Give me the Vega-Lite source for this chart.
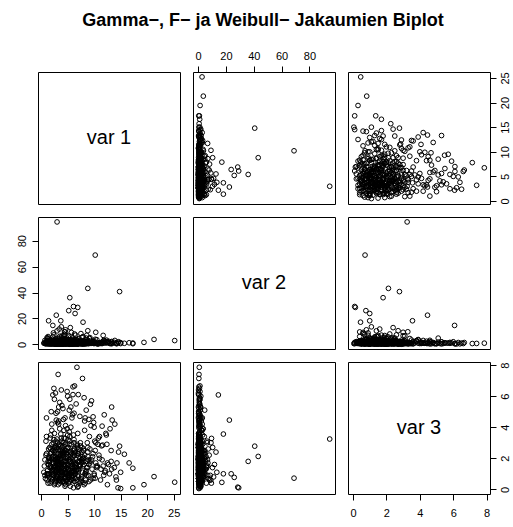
{
"$schema":"https://vega.github.io/schema/vega-lite/v6.json",
"padding":{"left":15,"top":11,"right":0,"bottom":0},
"background":"white",
"title":{"text":"Gamma−, F− ja Weibull− Jakaumien Biplot","fontSize":18,"fontWeight":"bold","font":"Liberation Sans","anchor":"middle","offset":20,"color":"black"},
"config":{
 "view":{"stroke":"black","strokeWidth":1},
 "axis":{"title":null,"grid":false,"domain":false,"tickSize":6,"tickColor":"black","labelPadding":5,"labelFontSize":11,"labelFont":"Liberation Sans","labelColor":"black","labelFlush":false,"labelOverlap":false},
 "text":{"font":"Liberation Sans","fontSize":20,"color":"black"}
},
"datasets":{"d":[
{"a":25.2,"b":2.9,"c":0.46},{"a":21.3,"b":3.8,"c":0.82},{"a":19.4,"b":1.5,"c":0.3},{"a":3.0,"b":94.5,"c":3.24},{"a":10.2,"b":68.9,"c":0.72},{"a":8.8,"b":43.2,"c":2.12},{"a":14.8,"b":40.7,"c":2.78},{"a":5.4,"b":36.0,"c":1.8},{"a":6.1,"b":29.2,"c":0.1},{"a":6.9,"b":28.5,"c":0.14},
{"a":5.2,"b":26.0,"c":0.77},{"a":6.4,"b":23.8,"c":1.0},{"a":2.85,"b":22.5,"c":4.46},{"a":1.4,"b":18.2,"c":1.0},{"a":3.7,"b":18.2,"c":3.56},{"a":7.9,"b":17.1,"c":0.45},{"a":2.2,"b":14.6,"c":6.08},{"a":10.3,"b":9.3,"c":3.0},{"a":8.8,"b":10.5,"c":2.7},{"a":11.7,"b":6.9,"c":1.5},
{"a":4.5,"b":9.7,"c":3.28},{"a":17.3,"b":1.0,"c":1.36},{"a":17.3,"b":0.5,"c":0.1},{"a":16.6,"b":1.2,"c":1.7},{"a":15.7,"b":0.8,"c":2.26},{"a":14.6,"b":2.0,"c":2.4},{"a":15.0,"b":0.6,"c":0.05},{"a":14.5,"b":1.5,"c":0.1},{"a":13.9,"b":3.0,"c":4.2},{"a":13.4,"b":0.7,"c":4.46},
{"a":13.3,"b":1.8,"c":5.3},{"a":9.3,"b":1.1,"c":5.48},{"a":6.75,"b":0.9,"c":7.86},{"a":7.8,"b":0.6,"c":7.14},{"a":3.2,"b":0.7,"c":7.4},{"a":6.3,"b":1.4,"c":6.66},{"a":3.8,"b":0.4,"c":6.4},{"a":2.4,"b":1.0,"c":6.5},{"a":2.7,"b":0.3,"c":6.2},{"a":1.0,"b":2.2,"c":4.6},
{"a":4.6,"b":1.6,"c":4.1},{"a":15.0,"b":1.3,"c":1.1},{"a":14.2,"b":0.5,"c":0.6},{"a":13.3,"b":2.2,"c":1.3},{"a":13.2,"b":0.8,"c":1.8},{"a":12.5,"b":1.5,"c":1.7},{"a":12.3,"b":3.3,"c":3.5},{"a":11.5,"b":0.9,"c":4.07},{"a":11.6,"b":2.0,"c":2.85},{"a":11.0,"b":1.2,"c":3.4},
{"a":10.0,"b":0.6,"c":4.0},{"a":9.8,"b":1.8,"c":4.67},{"a":8.3,"b":1.0,"c":4.6},{"a":8.2,"b":2.7,"c":3.8},{"a":5.4,"b":0.8,"c":5.8},{"a":3.3,"b":1.9,"c":5.3},{"a":3.1,"b":0.5,"c":5.0},{"a":6.0,"b":0.6,"c":6.1},
{"a":4.2,"b":0.8,"c":1.3},{"a":2.1,"b":1.9,"c":0.6},{"a":6.5,"b":0.3,"c":2.4},{"a":3.3,"b":4.1,"c":1.1},{"a":8.9,"b":1.2,"c":0.9},{"a":5.1,"b":0.5,"c":3.2},{"a":1.6,"b":2.7,"c":1.8},{"a":7.2,"b":0.9,"c":0.4},{"a":3.9,"b":1.4,"c":2.0},{"a":10.6,"b":0.6,"c":1.5},
{"a":2.8,"b":0.2,"c":2.7},{"a":5.8,"b":3.3,"c":0.8},{"a":4.6,"b":1.1,"c":1.6},{"a":1.2,"b":0.7,"c":0.9},{"a":9.7,"b":2.2,"c":2.1},{"a":3.5,"b":6.2,"c":1.4},{"a":6.9,"b":0.4,"c":3.6},{"a":2.5,"b":1.6,"c":0.3},{"a":12.1,"b":1.0,"c":1.2},{"a":4.9,"b":2.5,"c":2.6},
{"a":7.7,"b":5.4,"c":1.9},{"a":3.1,"b":0.9,"c":4.3},{"a":5.5,"b":1.7,"c":0.2},{"a":0.9,"b":1.3,"c":2.2},{"a":8.3,"b":0.3,"c":1.0},{"a":4.4,"b":7.6,"c":0.7},{"a":2.3,"b":0.6,"c":3.0},{"a":6.2,"b":2.9,"c":1.7},{"a":11.2,"b":0.8,"c":0.6},{"a":3.7,"b":1.2,"c":1.2},
{"a":5.3,"b":0.1,"c":2.9},{"a":1.8,"b":3.6,"c":1.5},{"a":7.0,"b":1.5,"c":2.3},{"a":4.0,"b":0.5,"c":0.5},{"a":9.1,"b":4.5,"c":3.4},{"a":2.6,"b":1.0,"c":1.9},{"a":6.0,"b":2.0,"c":0.9},{"a":13.2,"b":0.4,"c":2.5},{"a":3.4,"b":11.8,"c":1.6},{"a":5.7,"b":0.7,"c":1.1},
{"a":2.0,"b":2.3,"c":3.8},{"a":4.8,"b":1.8,"c":1.4},{"a":8.1,"b":0.6,"c":0.3},{"a":1.4,"b":0.4,"c":2.6},{"a":6.6,"b":3.9,"c":1.2},{"a":3.0,"b":1.1,"c":0.8},{"a":10.1,"b":1.7,"c":3.1},{"a":4.3,"b":0.2,"c":2.1},{"a":7.5,"b":8.3,"c":0.6},{"a":2.9,"b":2.6,"c":1.7},
{"a":5.9,"b":1.3,"c":4.8},{"a":3.6,"b":0.8,"c":2.3},{"a":1.1,"b":5.1,"c":1.0},{"a":8.6,"b":1.0,"c":1.8},{"a":4.5,"b":2.1,"c":0.2},{"a":6.8,"b":0.5,"c":2.8},{"a":2.2,"b":1.5,"c":1.3},{"a":11.8,"b":3.0,"c":0.9},{"a":5.0,"b":0.9,"c":3.5},{"a":3.2,"b":4.7,"c":2.0},
{"a":7.4,"b":1.2,"c":1.5},{"a":1.9,"b":0.3,"c":0.7},{"a":4.1,"b":3.1,"c":2.4},{"a":9.4,"b":0.7,"c":4.1},{"a":2.7,"b":1.9,"c":1.1},{"a":6.3,"b":0.4,"c":0.5},{"a":5.2,"b":6.8,"c":1.9},{"a":3.8,"b":1.4,"c":3.3},{"a":12.7,"b":2.4,"c":1.6},{"a":1.5,"b":0.6,"c":2.0},
{"a":4.7,"b":1.0,"c":0.6},{"a":8.0,"b":2.8,"c":2.6},{"a":2.4,"b":0.9,"c":1.4},{"a":5.6,"b":1.6,"c":4.0},{"a":3.3,"b":0.2,"c":0.9},{"a":7.1,"b":4.3,"c":1.3},{"a":10.9,"b":1.3,"c":2.2},{"a":2.0,"b":2.0,"c":2.9},{"a":6.1,"b":0.6,"c":1.8},{"a":4.4,"b":9.6,"c":0.4},
{"a":1.3,"b":1.1,"c":1.6},{"a":5.4,"b":0.3,"c":1.0},{"a":3.6,"b":2.4,"c":0.5},{"a":8.7,"b":1.8,"c":3.0},{"a":2.6,"b":0.5,"c":2.4},{"a":6.4,"b":1.1,"c":1.4},{"a":4.9,"b":3.7,"c":3.9},{"a":14.1,"b":0.9,"c":0.8},{"a":3.0,"b":1.7,"c":1.2},{"a":7.9,"b":0.2,"c":2.0},
{"a":0.7,"b":0.8,"c":0.9},{"a":5.0,"b":2.2,"c":2.7},{"a":3.9,"b":0.4,"c":1.7},{"a":9.8,"b":1.4,"c":0.7},{"a":2.2,"b":5.8,"c":2.1},{"a":6.7,"b":1.0,"c":0.3},{"a":4.2,"b":1.3,"c":4.5},{"a":1.7,"b":0.7,"c":1.5},{"a":8.4,"b":3.4,"c":1.1},{"a":5.8,"b":0.5,"c":2.3},
{"a":3.4,"b":1.5,"c":0.6},{"a":11.5,"b":0.6,"c":1.9},{"a":2.8,"b":2.9,"c":3.1},{"a":7.3,"b":0.9,"c":1.6},{"a":4.6,"b":0.3,"c":1.0},{"a":1.0,"b":1.2,"c":3.4},{"a":6.0,"b":4.9,"c":2.5},{"a":3.1,"b":0.7,"c":1.8},{"a":9.0,"b":1.9,"c":0.5},{"a":5.3,"b":1.1,"c":3.7},
{"a":2.4,"b":3.2,"c":1.2},{"a":4.0,"b":0.8,"c":2.2},{"a":7.6,"b":1.6,"c":0.8},{"a":1.6,"b":0.4,"c":1.9},{"a":5.7,"b":2.6,"c":1.4},{"a":12.4,"b":1.2,"c":2.9},{"a":3.5,"b":0.5,"c":0.4},{"a":6.5,"b":7.1,"c":1.7},{"a":2.9,"b":1.0,"c":2.6},{"a":8.2,"b":0.7,"c":4.4},
{"a":4.8,"b":1.4,"c":1.1},{"a":1.9,"b":2.1,"c":0.5},{"a":6.9,"b":0.2,"c":1.3},{"a":3.2,"b":1.8,"c":2.8},{"a":10.3,"b":0.9,"c":1.7},{"a":5.1,"b":3.5,"c":0.9},{"a":2.5,"b":0.6,"c":3.6},{"a":7.8,"b":1.3,"c":2.1},{"a":4.3,"b":0.9,"c":1.6},{"a":1.2,"b":4.4,"c":1.0},
{"a":5.6,"b":0.4,"c":2.0},{"a":3.7,"b":2.3,"c":1.5},{"a":9.2,"b":1.1,"c":2.6},{"a":2.1,"b":0.8,"c":1.2},{"a":6.2,"b":1.7,"c":3.2},{"a":4.5,"b":0.5,"c":0.7},{"a":13.8,"b":1.5,"c":1.4},{"a":3.0,"b":3.0,"c":2.0},{"a":7.0,"b":0.8,"c":0.2},{"a":5.5,"b":12.9,"c":2.4},
{"a":2.3,"b":1.3,"c":1.7},{"a":4.1,"b":0.3,"c":3.0},{"a":8.5,"b":2.0,"c":1.2},{"a":1.5,"b":1.0,"c":0.8},{"a":6.6,"b":0.6,"c":1.9},{"a":3.8,"b":5.5,"c":1.3},{"a":10.8,"b":0.4,"c":3.3},{"a":4.9,"b":1.6,"c":0.6},{"a":2.7,"b":2.8,"c":2.5},{"a":7.2,"b":1.0,"c":1.5},
{"a":5.2,"b":0.7,"c":1.0},{"a":3.3,"b":1.2,"c":4.2},{"a":6.4,"b":3.8,"c":0.7},{"a":1.8,"b":0.5,"c":2.3},{"a":9.6,"b":0.8,"c":1.3},{"a":4.4,"b":2.5,"c":1.8},{"a":2.6,"b":1.4,"c":0.4},{"a":7.7,"b":0.3,"c":2.7},{"a":3.9,"b":6.5,"c":3.1},{"a":11.0,"b":1.1,"c":2.0},
{"a":4.7,"b":0.6,"c":2.5},{"a":2.0,"b":1.7,"c":1.4},{"a":5.9,"b":2.7,"c":1.1},{"a":3.5,"b":0.9,"c":0.6},{"a":8.8,"b":1.3,"c":2.4},{"a":1.4,"b":3.3,"c":1.6},{"a":6.1,"b":0.5,"c":3.5},{"a":4.2,"b":1.9,"c":2.2},{"a":12.9,"b":0.7,"c":1.0},{"a":3.1,"b":0.2,"c":1.9},
{"a":7.4,"b":2.3,"c":3.0},{"a":2.9,"b":1.1,"c":1.2},{"a":5.3,"b":0.8,"c":0.5},{"a":4.0,"b":4.0,"c":1.7},{"a":6.8,"b":1.5,"c":2.2},{"a":1.7,"b":0.6,"c":3.3},{"a":9.3,"b":2.9,"c":0.6},{"a":3.6,"b":0.4,"c":2.0},{"a":5.0,"b":1.2,"c":1.5},{"a":2.3,"b":8.8,"c":0.9},
{"a":8.0,"b":0.5,"c":1.8},{"a":4.6,"b":1.0,"c":2.9},{"a":2.2,"b":2.4,"c":2.1},{"a":6.3,"b":0.9,"c":1.0},{"a":3.4,"b":1.6,"c":1.3},{"a":10.5,"b":3.6,"c":1.4},{"a":5.8,"b":0.3,"c":4.6},{"a":1.1,"b":1.4,"c":0.6},{"a":7.1,"b":0.7,"c":2.4},{"a":4.3,"b":2.9,"c":3.8},
{"a":3.0,"b":0.6,"c":1.6},{"a":6.0,"b":1.8,"c":1.1},{"a":2.5,"b":0.4,"c":2.7},{"a":8.3,"b":1.2,"c":0.4},{"a":4.8,"b":5.0,"c":2.3},{"a":1.3,"b":0.9,"c":1.8},{"a":7.6,"b":2.1,"c":1.9},{"a":3.7,"b":1.0,"c":0.8},{"a":5.4,"b":0.5,"c":3.4},{"a":11.4,"b":1.6,"c":2.8},
{"a":9.9,"b":0.8,"c":4.3},{"a":12.2,"b":2.0,"c":3.6},{"a":10.7,"b":0.3,"c":2.9},{"a":11.9,"b":1.3,"c":4.8},{"a":8.5,"b":4.8,"c":5.1},{"a":13.0,"b":0.9,"c":3.9},{"a":12.5,"b":1.7,"c":0.3},{"a":14.3,"b":0.6,"c":1.7},{"a":10.0,"b":2.6,"c":1.0},{"a":9.5,"b":1.0,"c":5.7},
{"a":4.1,"b":0.7,"c":5.2},{"a":6.6,"b":1.2,"c":5.5},{"a":2.8,"b":0.4,"c":4.9},{"a":5.0,"b":2.0,"c":6.0},{"a":3.5,"b":0.9,"c":5.6},{"a":7.3,"b":0.5,"c":4.7},{"a":4.9,"b":1.4,"c":6.3},{"a":1.9,"b":0.6,"c":5.0},{"a":8.1,"b":1.1,"c":5.9},{"a":5.6,"b":0.3,"c":5.3},
{"a":3.3,"b":2.4,"c":4.4},{"a":6.2,"b":0.8,"c":4.9},{"a":2.5,"b":1.5,"c":5.8},{"a":4.5,"b":3.1,"c":4.6},{"a":7.0,"b":0.4,"c":6.1},{"a":5.3,"b":1.7,"c":5.1},{"a":3.9,"b":0.7,"c":5.4},{"a":9.0,"b":1.3,"c":4.5},{"a":6.0,"b":0.6,"c":6.6},{"a":2.0,"b":0.9,"c":4.2},
{"a":0.6,"b":1.1,"c":1.5},{"a":0.8,"b":0.4,"c":0.7},{"a":1.0,"b":2.6,"c":2.3},{"a":0.5,"b":0.9,"c":1.1},{"a":1.3,"b":6.0,"c":0.4},{"a":0.9,"b":0.5,"c":3.1},{"a":1.6,"b":1.8,"c":2.7},{"a":0.7,"b":3.0,"c":1.9},{"a":1.2,"b":0.3,"c":1.2},{"a":1.8,"b":1.2,"c":3.5},
{"a":3.0,"b":10.4,"c":1.4},{"a":6.3,"b":8.0,"c":2.2},{"a":4.6,"b":11.2,"c":0.8},{"a":7.9,"b":6.0,"c":1.5},{"a":2.4,"b":7.3,"c":2.6},{"a":5.7,"b":9.2,"c":0.6},{"a":9.2,"b":5.2,"c":1.8},{"a":3.8,"b":13.5,"c":1.1},{"a":8.6,"b":7.0,"c":0.9},{"a":4.3,"b":6.6,"c":3.0},
{"a":1.5,"b":4.6,"c":2.0},{"a":6.8,"b":3.2,"c":2.9},{"a":2.7,"b":4.2,"c":0.8},{"a":10.2,"b":3.9,"c":2.5},{"a":5.1,"b":5.7,"c":1.3},{"a":3.5,"b":3.4,"c":3.9},{"a":7.5,"b":2.5,"c":0.7},{"a":4.0,"b":4.8,"c":2.4},{"a":12.0,"b":2.8,"c":1.1},{"a":5.9,"b":3.6,"c":1.6},
{"a":2.9,"b":0.6,"c":0.9},{"a":4.4,"b":1.1,"c":1.8},{"a":5.9,"b":0.4,"c":0.7},{"a":3.6,"b":1.7,"c":2.5},{"a":7.1,"b":0.8,"c":1.2},{"a":1.7,"b":1.2,"c":0.4},{"a":4.9,"b":0.3,"c":2.1},{"a":6.4,"b":2.1,"c":1.6},{"a":2.3,"b":0.7,"c":1.0},{"a":8.2,"b":1.5,"c":2.2},
{"a":3.2,"b":2.0,"c":0.3},{"a":5.5,"b":0.9,"c":1.5},{"a":4.1,"b":0.5,"c":2.8},{"a":2.6,"b":3.4,"c":1.3},{"a":6.9,"b":1.3,"c":0.9},{"a":3.8,"b":0.2,"c":1.7},{"a":9.5,"b":0.9,"c":1.9},{"a":4.7,"b":2.3,"c":0.5},{"a":1.9,"b":0.8,"c":2.4},{"a":5.8,"b":1.6,"c":1.2},
{"a":3.4,"b":0.4,"c":1.5},{"a":6.2,"b":1.0,"c":2.6},{"a":2.1,"b":2.9,"c":1.1},{"a":4.5,"b":1.4,"c":0.8},{"a":7.6,"b":0.5,"c":1.7},{"a":3.0,"b":1.8,"c":2.0},{"a":5.2,"b":0.7,"c":0.4},{"a":8.7,"b":2.5,"c":1.4},{"a":2.7,"b":0.3,"c":1.9},{"a":4.3,"b":4.2,"c":1.2},
{"a":5.0,"b":0.6,"c":2.4},{"a":3.7,"b":1.3,"c":0.7},{"a":6.7,"b":0.8,"c":1.3},{"a":2.4,"b":1.9,"c":2.2},{"a":4.8,"b":0.4,"c":1.0},{"a":7.3,"b":3.0,"c":2.0},{"a":3.1,"b":0.9,"c":3.0},{"a":5.6,"b":1.2,"c":0.6},{"a":10.4,"b":0.6,"c":1.5},{"a":4.2,"b":2.6,"c":1.8},
{"a":2.2,"b":0.5,"c":1.3},{"a":3.9,"b":1.5,"c":2.7},{"a":6.1,"b":0.3,"c":1.1},{"a":4.6,"b":0.8,"c":0.3},{"a":8.0,"b":1.4,"c":2.5},{"a":3.5,"b":2.2,"c":1.6},{"a":5.3,"b":0.6,"c":1.9},{"a":1.5,"b":1.7,"c":1.0},{"a":7.0,"b":0.9,"c":0.8},{"a":4.0,"b":3.8,"c":2.3},
{"a":2.8,"b":1.2,"c":1.7},{"a":5.7,"b":0.5,"c":2.9},{"a":3.3,"b":0.8,"c":0.6},{"a":9.0,"b":1.1,"c":1.6},{"a":4.4,"b":1.8,"c":2.4},{"a":6.5,"b":0.4,"c":1.4},{"a":2.0,"b":0.6,"c":2.0},{"a":5.1,"b":2.8,"c":1.0},{"a":3.6,"b":0.3,"c":2.2},{"a":7.8,"b":1.7,"c":1.1},
{"a":4.9,"b":1.0,"c":0.9},{"a":2.5,"b":2.4,"c":1.5},{"a":6.0,"b":0.7,"c":2.1},{"a":3.8,"b":1.6,"c":1.1},{"a":8.4,"b":0.5,"c":0.6},{"a":4.2,"b":0.3,"c":1.6},{"a":1.8,"b":1.0,"c":2.6},{"a":5.5,"b":3.2,"c":1.8},{"a":3.1,"b":1.4,"c":0.8},{"a":6.8,"b":0.6,"c":2.7},
{"a":3.0,"b":0.8,"c":2.3},{"a":4.7,"b":1.3,"c":1.3},{"a":7.2,"b":2.0,"c":1.8},{"a":2.6,"b":0.4,"c":0.5},{"a":5.4,"b":1.0,"c":3.1},{"a":3.9,"b":0.6,"c":1.4},{"a":9.8,"b":0.8,"c":2.3},{"a":4.1,"b":2.0,"c":0.9},{"a":6.3,"b":1.5,"c":2.6},{"a":2.3,"b":0.9,"c":1.7},
{"a":5.2,"b":0.4,"c":1.3},{"a":3.4,"b":2.7,"c":2.1},{"a":7.5,"b":0.7,"c":0.5},{"a":4.5,"b":1.2,"c":2.5},{"a":2.9,"b":0.5,"c":1.2},{"a":6.6,"b":1.9,"c":1.5},{"a":3.7,"b":0.9,"c":0.9},{"a":8.9,"b":0.4,"c":1.9},{"a":5.0,"b":1.5,"c":2.0},{"a":1.6,"b":0.7,"c":1.4},
{"a":4.3,"b":0.6,"c":3.3},{"a":6.1,"b":1.3,"c":0.6},{"a":2.7,"b":1.6,"c":2.8},{"a":5.8,"b":0.9,"c":1.7},{"a":3.2,"b":0.3,"c":1.4},{"a":7.7,"b":1.2,"c":2.4},{"a":4.0,"b":2.1,"c":1.1},{"a":2.1,"b":0.4,"c":0.8},{"a":5.5,"b":1.1,"c":2.2},{"a":11.3,"b":0.7,"c":1.3},
{"a":3.5,"b":1.0,"c":1.9},{"a":6.9,"b":0.6,"c":2.3},{"a":4.8,"b":2.4,"c":1.4},{"a":2.4,"b":1.1,"c":3.2},{"a":5.3,"b":0.5,"c":0.8},{"a":8.1,"b":1.8,"c":1.6},{"a":3.9,"b":0.8,"c":2.6},{"a":6.4,"b":0.3,"c":1.0},{"a":2.9,"b":1.4,"c":0.6},{"a":4.6,"b":0.7,"c":2.0},
{"a":5.9,"b":1.1,"c":1.2},{"a":3.1,"b":2.2,"c":1.8},{"a":7.4,"b":0.5,"c":2.8},{"a":4.2,"b":1.0,"c":0.5},{"a":2.2,"b":0.7,"c":2.5},{"a":6.7,"b":2.6,"c":1.3},{"a":3.6,"b":0.5,"c":1.0},{"a":9.2,"b":1.3,"c":1.7},{"a":5.1,"b":0.8,"c":2.7},{"a":4.4,"b":1.9,"c":1.5},
{"a":1.4,"b":0.9,"c":2.1},{"a":3.3,"b":0.6,"c":1.6},{"a":5.6,"b":1.4,"c":1.1},{"a":7.9,"b":0.9,"c":2.0},{"a":4.7,"b":0.4,"c":1.8},{"a":2.8,"b":1.9,"c":0.7},{"a":6.2,"b":0.7,"c":3.0},{"a":3.8,"b":1.2,"c":1.2},{"a":10.0,"b":1.6,"c":0.9},{"a":5.4,"b":2.3,"c":2.4},
{"a":2.5,"b":0.3,"c":1.5},{"a":4.1,"b":1.7,"c":2.3},{"a":6.5,"b":1.0,"c":0.7},{"a":3.4,"b":0.8,"c":2.9},{"a":8.6,"b":0.6,"c":1.4},{"a":4.9,"b":1.3,"c":1.6},{"a":2.1,"b":1.1,"c":1.9},{"a":5.7,"b":0.5,"c":1.0},{"a":7.1,"b":1.4,"c":2.6},{"a":3.0,"b":2.5,"c":1.3},
{"a":4.6,"b":0.9,"c":1.1},{"a":6.0,"b":2.2,"c":2.2},{"a":3.2,"b":0.5,"c":1.7},{"a":5.3,"b":1.7,"c":0.9},{"a":2.7,"b":0.8,"c":2.1},{"a":7.0,"b":1.1,"c":1.8},{"a":4.0,"b":0.6,"c":2.5},{"a":8.3,"b":0.9,"c":1.0},{"a":3.7,"b":1.8,"c":2.8},{"a":5.9,"b":0.4,"c":1.5}
]},
"concat":[
 {"width":142,"height":132,"layer":[
   {"data":{"name":"d"},"mark":{"type":"point","opacity":0},
    "encoding":{"x":{"field":"a","type":"quantitative","scale":{"domain":[-0.6,26.2],"nice":false,"zero":false},"axis":null},
                "y":{"field":"a","type":"quantitative","scale":{"domain":[-0.6,26.2],"nice":false,"zero":false},"axis":null}}},
   {"data":{"values":[{"t":"var 1"}]},"mark":{"type":"text","fontSize":20,"font":"Liberation Sans"},"encoding":{"text":{"field":"t","type":"nominal"}}}
 ]},
 {"width":142,"height":132,"data":{"name":"d"},"mark":{"type":"point","shape":"circle","filled":false,"stroke":"black","strokeWidth":1,"size":22,"opacity":1},
  "encoding":{"x":{"field":"b","type":"quantitative","scale":{"domain":[-3.6,98.3],"nice":false,"zero":false},"axis":{"orient":"top","values":[0,20,40,60,80]}},
              "y":{"field":"a","type":"quantitative","scale":{"domain":[-0.6,26.2],"nice":false,"zero":false},"axis":null}}},
 {"width":142,"height":132,"data":{"name":"d"},"mark":{"type":"point","shape":"circle","filled":false,"stroke":"black","strokeWidth":1,"size":22,"opacity":1},
  "encoding":{"x":{"field":"c","type":"quantitative","scale":{"domain":[-0.3,8.2],"nice":false,"zero":false},"axis":null},
              "y":{"field":"a","type":"quantitative","scale":{"domain":[-0.6,26.2],"nice":false,"zero":false},"axis":{"orient":"right","values":[0,5,10,15,20,25],"labelAngle":-90,"labelPadding":3}}}},
 {"width":142,"height":132,"data":{"name":"d"},"mark":{"type":"point","shape":"circle","filled":false,"stroke":"black","strokeWidth":1,"size":22,"opacity":1},
  "encoding":{"x":{"field":"a","type":"quantitative","scale":{"domain":[-0.6,26.2],"nice":false,"zero":false},"axis":null},
              "y":{"field":"b","type":"quantitative","scale":{"domain":[-3.6,98.3],"nice":false,"zero":false},"axis":{"orient":"left","values":[0,20,40,60,80],"labelAngle":-90}}}},
 {"width":142,"height":132,"layer":[
   {"data":{"name":"d"},"mark":{"type":"point","opacity":0},
    "encoding":{"x":{"field":"b","type":"quantitative","scale":{"domain":[-3.6,98.3],"nice":false,"zero":false},"axis":null},
                "y":{"field":"b","type":"quantitative","scale":{"domain":[-3.6,98.3],"nice":false,"zero":false},"axis":null}}},
   {"data":{"values":[{"t":"var 2"}]},"mark":{"type":"text","fontSize":20,"font":"Liberation Sans"},"encoding":{"text":{"field":"t","type":"nominal"}}}
 ]},
 {"width":142,"height":132,"data":{"name":"d"},"mark":{"type":"point","shape":"circle","filled":false,"stroke":"black","strokeWidth":1,"size":22,"opacity":1},
  "encoding":{"x":{"field":"c","type":"quantitative","scale":{"domain":[-0.3,8.2],"nice":false,"zero":false},"axis":null},
              "y":{"field":"b","type":"quantitative","scale":{"domain":[-3.6,98.3],"nice":false,"zero":false},"axis":null}}},
 {"width":142,"height":132,"data":{"name":"d"},"mark":{"type":"point","shape":"circle","filled":false,"stroke":"black","strokeWidth":1,"size":22,"opacity":1},
  "encoding":{"x":{"field":"a","type":"quantitative","scale":{"domain":[-0.6,26.2],"nice":false,"zero":false},"axis":{"orient":"bottom","values":[0,5,10,15,20,25],"labelPadding":7}},
              "y":{"field":"c","type":"quantitative","scale":{"domain":[-0.3,8.2],"nice":false,"zero":false},"axis":null}}},
 {"width":142,"height":132,"data":{"name":"d"},"mark":{"type":"point","shape":"circle","filled":false,"stroke":"black","strokeWidth":1,"size":22,"opacity":1},
  "encoding":{"x":{"field":"b","type":"quantitative","scale":{"domain":[-3.6,98.3],"nice":false,"zero":false},"axis":null},
              "y":{"field":"c","type":"quantitative","scale":{"domain":[-0.3,8.2],"nice":false,"zero":false},"axis":null}}},
 {"width":142,"height":132,"layer":[
   {"data":{"name":"d"},"mark":{"type":"point","opacity":0},
    "encoding":{"x":{"field":"c","type":"quantitative","scale":{"domain":[-0.3,8.2],"nice":false,"zero":false},"axis":{"orient":"bottom","values":[0,2,4,6,8],"labelPadding":7}},
                "y":{"field":"c","type":"quantitative","scale":{"domain":[-0.3,8.2],"nice":false,"zero":false},"axis":{"orient":"right","values":[0,2,4,6,8],"labelAngle":-90,"labelPadding":3}}}},
   {"data":{"values":[{"t":"var 3"}]},"mark":{"type":"text","fontSize":20,"font":"Liberation Sans"},"encoding":{"text":{"field":"t","type":"nominal"}}}
 ]}
],
"columns":3,
"spacing":13,
"bounds":"flush",
"resolve":{"scale":{"x":"independent","y":"independent"}}
}
